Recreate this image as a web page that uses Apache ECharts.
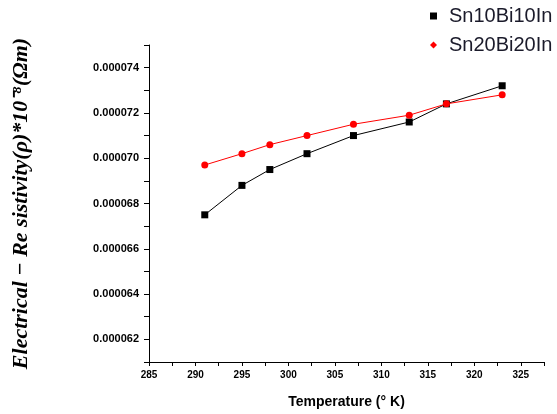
<!DOCTYPE html>
<html lang="en">
<head>
    <meta charset="UTF-8">
    <script src="https://cdn.jsdelivr.net/npm/echarts@6/dist/echarts.min.js"></script>
    <style>
        body{ margin: 0; background: #fff; }
        #pic{ width: 557px; height: 414px; }
    </style>
    <title>Resistivity</title>
</head>
<body>
<div id="pic"></div>
<script type="text/javascript">
    // temperature (K)
    var temps = [291, 295, 298, 302, 307, 313, 317, 323];
    // electrical resistivity
    var sn10 = [0.0000675, 0.0000688, 0.0000695, 0.0000702, 0.0000710, 0.0000716, 0.0000724, 0.0000732];
    var sn20 = [0.0000697, 0.0000702, 0.0000706, 0.0000710, 0.0000715, 0.0000719, 0.0000724, 0.0000728];
    var seriesNames = ['Sn10Bi10In', 'Sn20Bi20In'];

    function pairs(xs, ys){
        var out = [];
        for (var i = 0; i < xs.length; i++) {
            out.push([xs[i], ys[i]]);
        }
        return out;
    }

    var myChart = echarts.init(document.getElementById('pic'));
    var option = {
        animation: false,
        legend: {
            orient: 'vertical',
            left: 430,
            top: 6,
            padding: 0,
            itemGap: 9,
            itemWidth: 7,
            itemHeight: 7,
            textStyle: { fontFamily: 'Liberation Sans', fontSize: 20, color: '#1a1a2a', padding: [0, 0, 0, 7] },
            data: [
                { name: seriesNames[0], icon: 'rect' },
                { name: seriesNames[1], icon: 'diamond' }
            ]
        },
        grid: { left: 149, top: 45, right: 13, bottom: 50 },
        xAxis: {
            type: 'value',
            min: 285,
            max: 327.5,
            interval: 2.5,
            name: 'Temperature (\u00B0 K)',
            nameLocation: 'middle',
            nameGap: 33,
            nameTextStyle: { fontFamily: 'Liberation Sans', fontWeight: 'bold', fontSize: 14, color: '#000' },
            axisLine: { lineStyle: { color: '#000', width: 1 } },
            axisTick: { length: 4, lineStyle: { color: '#000' } },
            axisLabel: {
                fontFamily: 'Liberation Sans', fontWeight: 'bold', fontSize: 10, color: '#000', margin: 8,
                formatter: function (v) { return v % 5 === 0 ? String(v) : ''; }
            },
            splitLine: { show: false }
        },
        yAxis: {
            type: 'value',
            min: 0.000061,
            max: 0.000075,
            interval: 0.000001,
            name: 'Electrical \u2212 Re sistivity(\u03C1)*10\u207B\u2078(\u03A9m)',
            nameLocation: 'middle',
            nameGap: 117,
            nameTextStyle: { fontFamily: 'Liberation Serif', fontWeight: 'bold', fontStyle: 'italic', fontSize: 22, color: '#000' },
            axisLine: { show: true, lineStyle: { color: '#000', width: 1 } },
            axisTick: { length: 5, lineStyle: { color: '#000' } },
            axisLabel: {
                fontFamily: 'Liberation Sans', fontWeight: 'bold', fontSize: 11, color: '#000', margin: 10,
                formatter: function (v) {
                    var n = Math.round(v * 1e6);
                    return n % 2 === 0 ? v.toFixed(6) : '';
                }
            },
            splitLine: { show: false }
        },
        series: [
            {
                name: seriesNames[0],
                type: 'line',
                data: pairs(temps, sn10),
                symbol: 'rect',
                symbolSize: 7,
                itemStyle: { color: '#000' },
                lineStyle: { color: '#000', width: 1 }
            },
            {
                name: seriesNames[1],
                type: 'line',
                data: pairs(temps, sn20),
                symbol: 'circle',
                symbolSize: 7,
                itemStyle: { color: '#ff0000' },
                lineStyle: { color: '#ff0000', width: 1 }
            }
        ]
    };
    option && myChart.setOption(option);
</script>
</body>
</html>
